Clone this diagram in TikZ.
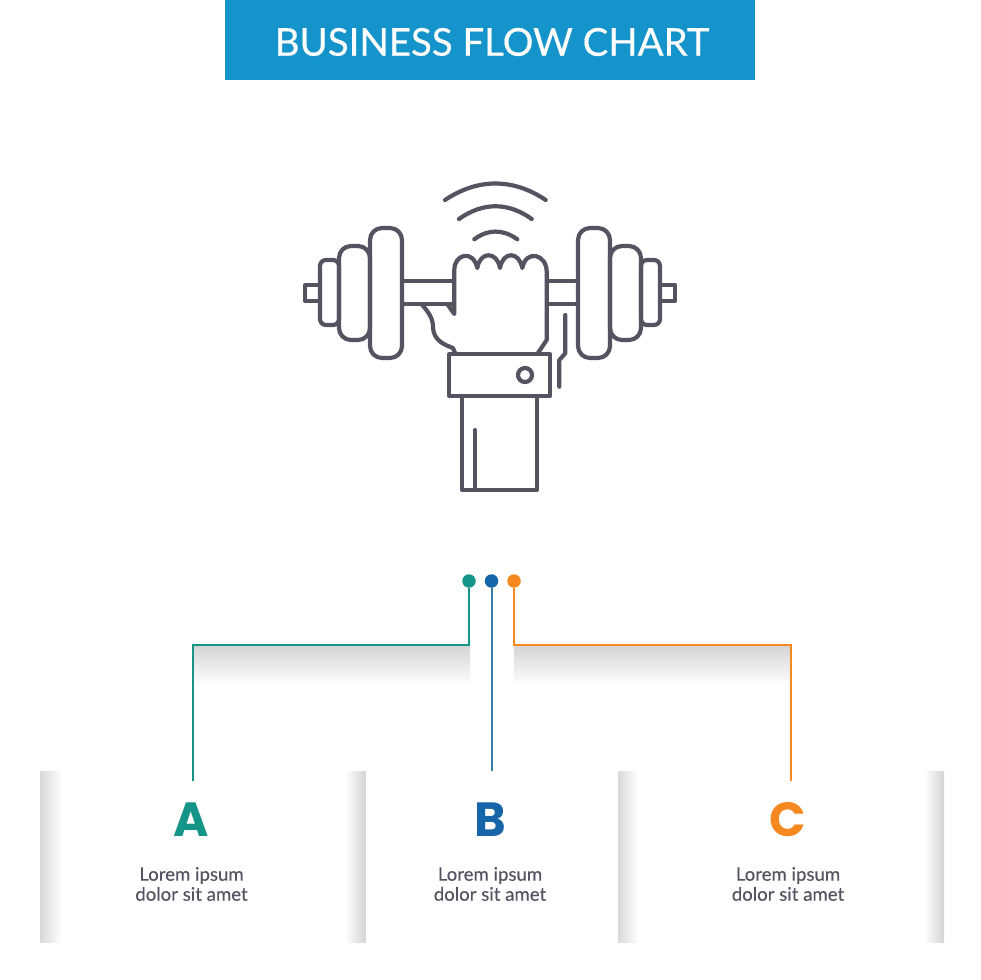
\documentclass[tikz,border=0pt]{standalone}
\usepackage{fontspec}
\setmainfont{Lato}
\newfontfamily\heavyfont{Poppins}
\newfontfamily\titlefont[FakeBold=0.4]{Lato}
\newfontfamily\bodyfont[FakeBold=0.25]{Lato}
\usepackage{xcolor}
\definecolor{barblue}{HTML}{1593CB}
\definecolor{ateal}{HTML}{159587}
\definecolor{bblue}{HTML}{1565A8}
\definecolor{linkblue}{HTML}{3A7CA5}
\definecolor{corange}{HTML}{F5891F}
\definecolor{inkgray}{HTML}{55535F}
\tikzset{
  dotnode/.style={circle,inner sep=0pt,minimum size=13.5pt},
  flowline/.style={line width=2pt},
  icon/.style={draw=inkgray,line width=4.2pt,line join=round,line cap=round},
  letternode/.style={font=\heavyfont\bfseries\fontsize{48}{48}\selectfont},
  bodynode/.style={font=\bodyfont\fontsize{18.6}{20}\selectfont,text=inkgray,align=center}
}
\begin{document}
\begin{tikzpicture}[x=1pt,y=-1pt]
  \pgfmathsetmacro{\c}{490}
  \useasboundingbox (0,0) rectangle (980,980);

  \fill[barblue] (225,0) rectangle (755,80);
  \node[text=white,font=\titlefont\fontsize{38.4}{40}\selectfont] (title) at (492,42) {BUSINESS FLOW CHART};

  \foreach \s in {-1,1}{
    \draw[icon] (\c+\s*172,285) -- (\c+\s*185,285) -- (\c+\s*185,301) -- (\c+\s*172,301);
    \draw[icon,rounded corners=6pt] (\c+\s*151,260) rectangle (\c+\s*170,325);
    \draw[icon,rounded corners=12pt] (\c+\s*120,246) rectangle (\c+\s*151,340);
    \draw[icon,rounded corners=12pt] (\c+\s*88,228) rectangle (\c+\s*120,358);
  }
  \draw[icon] (403,281) -- (454,281);
  \draw[icon] (403,304) -- (453,304);
  \draw[icon] (547,281) -- (577,281);
  \draw[icon] (547,304) -- (577,304);

  \draw[icon] (448,305) -- (454.3,314) -- (454.3,270)
    .. controls (454.3,254) and (473,249) .. (477.3,268)
    .. controls (480,251) and (497,251) .. (500,268)
    .. controls (503,251) and (519,251) .. (522.3,268)
    .. controls (526,249) and (546.7,254) .. (546.7,272)
    -- (546.7,340) -- (538,353);
  \draw[icon] (421.7,304.3) .. controls (431,315) and (433,320) .. (433,328)
    .. controls (434,341) and (445,345) .. (453,348) -- (455,353);

  \draw[icon] (449.3,354.3) rectangle (550,396);
  \draw[icon] (525,375) circle (7);
  \draw[icon] (462.3,396) -- (462.3,490) -- (536.7,490) -- (536.7,396);
  \draw[icon] (474.7,430) -- (474.7,490);
  \draw[icon] (565.3,315) -- (565.3,353.3) -- (559.3,360) -- (559.3,386.7);

  \draw[icon] (445,200) .. controls (478,178) and (513,178) .. (545.7,200);
  \draw[icon] (459,219) .. controls (483,202) and (508,202) .. (531.7,219);
  \draw[icon] (474.3,239.3) .. controls (488,229) and (503,229) .. (517.3,239.3);

  \shade[top color=black!17,bottom color=white] (193,645) rectangle (470,685);
  \shade[top color=black!17,bottom color=white] (514,645) rectangle (791,685);

  \shade[left color=black!15,right color=white] (40,771.5) rectangle (62,942);
  \shade[left color=white,right color=black!17] (345,771.5) rectangle (365.5,942);
  \shade[left color=black!15,right color=white] (618,771.5) rectangle (638,942);
  \shade[left color=white,right color=black!17] (924,771.5) rectangle (944,942);

  \node[dotnode,fill=ateal] (dota) at (469,581) {};
  \node[dotnode,fill=bblue] (dotb) at (491.5,581) {};
  \node[dotnode,fill=corange] (dotc) at (514,581) {};

  \coordinate (enda) at (192.5,781);
  \coordinate (endb) at (491.5,771);
  \coordinate (endc) at (791,781);
  \coordinate (turna) at (469,645);
  \coordinate (turnc) at (514,645);

  \draw[flowline,draw=ateal] (dota) -- (turna) -| (enda);
  \draw[flowline,draw=linkblue] (dotb) -- (endb);
  \draw[flowline,draw=corange] (dotc) -- (turnc) -| (endc);

  \foreach \n/\x/\l/\col in {a/191.5/A/ateal,b/490/B/bblue,c/788/C/corange}{
    \node[letternode,text=\col] (letter\n) at (\x,820) {\l};
    \node[bodynode] (body\n) at (\x,884) {Lorem ipsum\\dolor sit amet};
  }
\end{tikzpicture}
\end{document}
